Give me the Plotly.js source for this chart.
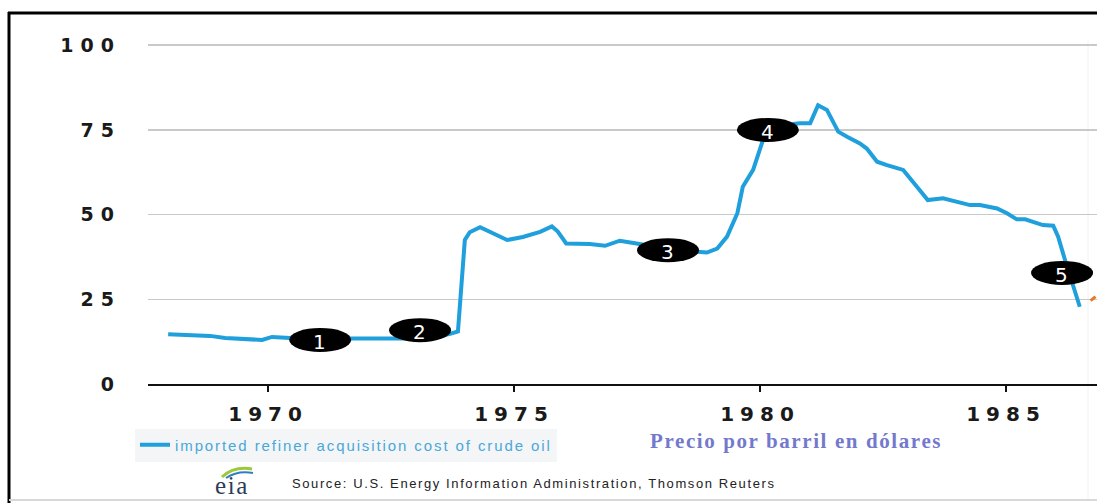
<!DOCTYPE html>
<html><head><meta charset="utf-8">
<script src="https://cdn.plot.ly/plotly-3.0.1.min.js"></script>
<style>
html,body{margin:0;padding:0;background:#fff;overflow:hidden;}
#chart{width:1097px;height:503px;}
.xtick text{letter-spacing:6px;}
.ytick text{letter-spacing:7px;}
.legendtext{letter-spacing:1.9px;}
.annotation-text{letter-spacing:1.6px;}
</style></head><body><div id="chart"></div>
<script>
const years = [1967.97,1968.41,1968.82,1969.13,1969.74,1969.88,1970.08,1970.45,1971.06,1971.87,1972.68,1973.29,1973.70,1973.86,
  1974.00,1974.10,1974.31,1974.57,1974.86,1975.18,1975.53,1975.77,1975.89,1976.06,1976.54,1976.85,1977.15,1977.49,1978.07,
  1978.72,1978.92,1979.13,1979.33,1979.54,1979.65,1979.86,1980.06,1980.20,1980.81,1981.02,1981.18,1981.36,1981.59,1981.77,
  1982.03,1982.17,1982.38,1982.58,1982.91,1983.19,1983.41,1983.72,1984.00,1984.27,1984.47,1984.82,1985.02,1985.22,1985.39,
  1985.75,1985.96,1986.06,1986.20,1986.36,1986.50];
const price = [14.7,14.5,14.2,13.6,12.9,13.0,13.9,13.6,13.4,13.3,13.2,13.4,14.8,15.5,
  42.5,44.8,46.3,44.6,42.5,43.4,44.9,46.5,45.0,41.5,41.3,40.8,42.3,41.5,40.0,
  39.0,38.8,40.0,43.5,50.4,58.2,63.2,72.0,76.0,77.0,77.0,82.3,80.9,74.5,73.0,
  71.0,69.5,65.6,64.6,63.2,58.2,54.3,54.8,53.8,52.8,52.8,51.8,50.4,48.6,48.6,
  46.9,46.7,43.5,36.6,28.7,22.8];
// second series, only its first tick is visible at the right edge
const otherYears = [1986.72,1986.82];
const otherValues = [24.6,25.8];
// numbered event badges
const eventYears = [1971.06,1973.09,1978.13,1980.16,1986.14];
const eventValues = [13.0,15.9,39.5,75.0,32.8];
const eventLabels = ['1','2','3','4','5'];
const xTickVals = [1970,1975,1980,1985];
const yTickVals = [0,25,50,75,100];
const seriesName = 'imported refiner acquisition cost of crude oil';
const titleText = 'Precio por barril en dólares';
const sourceText = 'Source: U.S. Energy Information Administration, Thomson Reuters';

const W = 1097, H = 503, ML = 148, MR = 0, MT = 11, MB = 119;
const PW = W - ML - MR, PH = H - MT - MB;
const px = p => (p - ML) / PW;
const py = p => (H - MB - p) / PH;

const traces = [
  {x: years, y: price, type: 'scatter', mode: 'lines', name: seriesName,
   line: {color: '#1f9fdc', width: 4}, showlegend: true, hoverinfo: 'skip'},
  {x: otherYears, y: otherValues, type: 'scatter', mode: 'lines', name: 'other',
   line: {color: '#e8782a', width: 3}, showlegend: false, hoverinfo: 'skip'}
];

const shapes = eventYears.map((yr, i) => ({
  type: 'circle', xref: 'x', yref: 'y', xsizemode: 'pixel', ysizemode: 'pixel',
  xanchor: yr, yanchor: eventValues[i], x0: -31, x1: 31, y0: -12, y1: 12,
  fillcolor: '#000', line: {width: 0}, layer: 'above'
}));
// frame
shapes.push({type: 'line', xref: 'paper', yref: 'paper', x0: px(9), x1: px(9), y0: py(12), y1: py(503),
  line: {color: '#000', width: 3}, layer: 'above'});
shapes.push({type: 'line', xref: 'paper', yref: 'paper', x0: px(8), x1: px(1097), y0: py(13), y1: py(13),
  line: {color: '#000', width: 3}, layer: 'above'});
shapes.push({type: 'line', xref: 'paper', yref: 'paper', x0: px(9), x1: px(1097), y0: py(500), y1: py(500),
  line: {color: '#d8d8d8', width: 2}, layer: 'above'});
shapes.push({type: 'line', xref: 'paper', yref: 'paper', x0: px(1088), x1: px(1088), y0: py(40), y1: py(500),
  line: {color: '#f2f2f2', width: 1}, layer: 'below'});
// eia logo swooshes
shapes.push({type: 'path', xref: 'paper', yref: 'paper',
  path: `M ${px(222)},${py(477)} Q ${px(234)},${py(466)} ${px(252)},${py(469)}`,
  line: {color: '#9cc93c', width: 3}});
shapes.push({type: 'path', xref: 'paper', yref: 'paper',
  path: `M ${px(226)},${py(478)} Q ${px(238)},${py(470)} ${px(253)},${py(473)}`,
  line: {color: '#2f7fc0', width: 2}});

const annotations = [
  {xref: 'paper', yref: 'paper', x: px(796), y: py(441), xanchor: 'center', yanchor: 'middle', showarrow: false,
   text: titleText, font: {family: 'Liberation Serif', size: 21, color: '#7379cc', weight: 'bold'}},
  {xref: 'paper', yref: 'paper', x: px(290), y: py(483), xanchor: 'left', yanchor: 'middle', showarrow: false,
   text: sourceText, font: {family: 'Liberation Sans', size: 13, color: '#222'}},
  {xref: 'paper', yref: 'paper', x: px(232), y: py(485), xanchor: 'center', yanchor: 'middle', showarrow: false,
   text: 'eia', font: {family: 'Liberation Serif', size: 25, color: '#2b3d57'}}
];
eventLabels.forEach((lab, i) => annotations.push({
  xref: 'x', yref: 'y', x: eventYears[i], y: eventValues[i], xanchor: 'center', yanchor: 'middle',
  yshift: -2, showarrow: false, text: lab,
  font: {family: 'DejaVu Sans', size: 20, color: '#fff'}
}));

const layout = {
  width: W, height: H,
  margin: {l: ML, r: MR, t: MT, b: MB, pad: 0},
  paper_bgcolor: '#fff', plot_bgcolor: '#fff',
  font: {family: 'DejaVu Sans', color: '#222'},
  xaxis: {range: [1967.56, 1986.85], tickvals: xTickVals, ticktext: xTickVals.map(String),
    showgrid: false, zeroline: false, showline: true, linecolor: '#111', linewidth: 2,
    ticks: 'outside', ticklen: 6, tickwidth: 2, tickcolor: '#111',
    tickfont: {family: 'DejaVu Sans', size: 20, color: '#1a1a1a', weight: 'bold'}, ticklabelstandoff: 5, fixedrange: true},
  yaxis: {range: [0, 110.1], tickvals: yTickVals, ticktext: yTickVals.map(String),
    showgrid: true, gridcolor: '#c9c9c9', gridwidth: 1.5, zeroline: false, showline: false, ticks: '',
    tickfont: {family: 'DejaVu Sans', size: 19, color: '#1a1a1a', weight: 'bold'}, ticklabelstandoff: 26, fixedrange: true},
  showlegend: true,
  legend: {x: px(135), y: py(445), xanchor: 'left', yanchor: 'middle', orientation: 'h',
    bgcolor: '#f3f5f7', borderwidth: 0, itemwidth: 30,
    font: {family: 'Liberation Sans', size: 15, color: '#4aa8d8'}},
  shapes: shapes,
  annotations: annotations
};

Plotly.newPlot('chart', traces, layout, {displayModeBar: false, staticPlot: true});
</script></body></html>
